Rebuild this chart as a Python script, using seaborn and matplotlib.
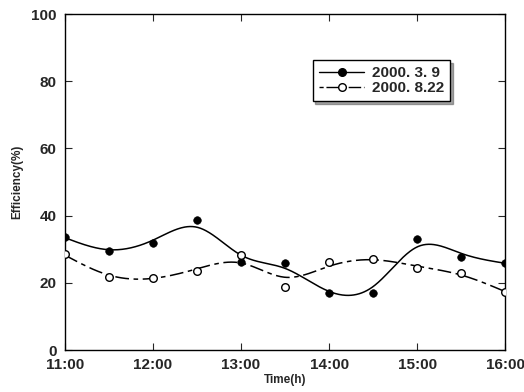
import numpy as np
import pandas as pd
import seaborn as sns
import matplotlib.pyplot as plt
from matplotlib.lines import Line2D

# time in hours, every 30 min
hours = [11.0, 11.5, 12.0, 12.5, 13.0, 13.5, 14.0, 14.5, 15.0, 15.5, 16.0]
eff_0309 = [33.7, 29.5, 31.9, 38.7, 26.2, 25.8, 17.1, 17.1, 33.2, 27.6, 26.0]
eff_0822 = [28.6, 21.8, 21.3, 23.6, 28.3, 18.9, 26.1, 27.2, 24.4, 22.8, 17.2]
labels = ['2000. 3. 9', '2000. 8.22']
xticks = [11, 12, 13, 14, 15, 16]
xticklabels = ['11:00', '12:00', '13:00', '14:00', '15:00', '16:00']
yticks = [0, 20, 40, 60, 80, 100]


def smooth(x, y, lam, step=0.01):
    # penalized (whittaker type) smoothing on a fine grid, like a smoothing spline
    grid = np.round(np.arange(x[0], x[-1] + step / 2, step), 4)
    n = len(grid)
    w = np.zeros(n)
    z = np.zeros(n)
    for xi, yi in zip(x, y):
        k = int(round((xi - x[0]) / step))
        w[k] = 1.0
        z[k] = yi
    D = np.diff(np.eye(n), 2, axis=0)
    f = np.linalg.solve(np.diag(w) + lam * D.T @ D, w * z)
    return grid, f


sns.set_style('ticks')
plt.rcParams['font.family'] = ['Liberation Sans', 'DejaVu Sans']
plt.rcParams['font.weight'] = 'bold'

fig = plt.figure(figsize=(5.24, 3.92), dpi=100)
ax = fig.add_axes([0.124, 0.107, 0.84, 0.857])

g1, f1 = smooth(hours, eff_0309, 4e3)
g2, f2 = smooth(hours, eff_0822, 7e3)
curves = pd.DataFrame({'t': np.concatenate([g1, g2]),
                       'e': np.concatenate([f1, f2]),
                       's': [labels[0]] * len(g1) + [labels[1]] * len(g2)})
pts = pd.DataFrame({'t': hours * 2, 'e': eff_0309 + eff_0822,
                    's': [labels[0]] * len(hours) + [labels[1]] * len(hours)})

sns.lineplot(data=curves[curves.s == labels[0]], x='t', y='e', color='black',
             lw=1.1, ax=ax, legend=False)
sns.lineplot(data=curves[curves.s == labels[1]], x='t', y='e', color='black',
             lw=1.1, dashes=False, ax=ax, legend=False).lines[-1].set_dashes([9, 3, 3, 3])
sns.scatterplot(data=pts[pts.s == labels[0]], x='t', y='e', color='black',
                edgecolor='black', s=30, ax=ax, legend=False, zorder=3)
sns.scatterplot(data=pts[pts.s == labels[1]], x='t', y='e', color='white',
                edgecolor='black', linewidth=1.0, s=30, ax=ax, legend=False, zorder=3)

ax.set_xlim(11, 16)
ax.set_ylim(0, 100)
ax.set_xticks(xticks)
ax.set_xticklabels(xticklabels)
ax.set_yticks(yticks)
ax.tick_params(direction='in', top=True, right=True, length=5, width=0.8,
               labelsize=11, pad=6)
for lab in ax.get_xticklabels() + ax.get_yticklabels():
    lab.set_fontweight('bold')
for sp in ax.spines.values():
    sp.set_linewidth(1.0)
    sp.set_color('black')
ax.set_xlabel('Time(h)', fontsize=8.5, fontweight='bold', labelpad=1)
ax.set_ylabel('Efficiency(%)', fontsize=8.5, fontweight='bold', labelpad=6)

handles = [Line2D([], [], color='black', lw=1.0, marker='o', ms=5.5, mfc='black'),
           Line2D([], [], color='black', lw=1.0, marker='o', ms=5.5, mfc='white',
                  dashes=[3, 2, 9, 2])]
leg = ax.legend(handles, labels, loc='upper left', bbox_to_anchor=(0.545, 0.885),
                frameon=True, fancybox=False, shadow=True, fontsize=11,
                handlelength=3.0, borderpad=0.4, labelspacing=0.05, handletextpad=0.5)
leg.get_frame().set_edgecolor('black')
leg.get_frame().set_linewidth(1.0)
for t in leg.get_texts():
    t.set_fontweight('bold')

fig.savefig('out.png', dpi=100)
